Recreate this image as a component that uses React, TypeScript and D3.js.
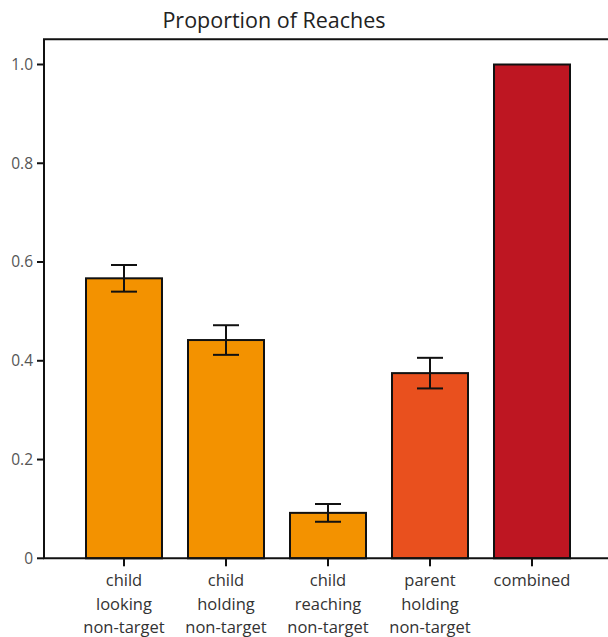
import { useEffect, useRef } from "react";
import * as d3 from "d3";

const categories = [
  "child looking non-target",
  "child holding non-target",
  "child reaching non-target",
  "parent holding non-target",
  "combined",
];
const labelLines = [
  ["child", "looking", "non-target"],
  ["child", "holding", "non-target"],
  ["child", "reaching", "non-target"],
  ["parent", "holding", "non-target"],
  ["combined"],
];
const values = [0.567, 0.442, 0.092, 0.375, 1.0];
const errors = [0.027, 0.03, 0.018, 0.031, 0];
const colors = ["#F39200", "#F39200", "#F39200", "#E9501E", "#BE1622"];
const yTicks = [0, 0.2, 0.4, 0.6, 0.8, 1.0];

function App() {
  const ref = useRef<SVGSVGElement>(null);
  const width = 608;
  const height = 637;

  useEffect(() => {
    document.body.style.margin = "0";
    buildChart();
  }, []);

  const buildChart = () => {
    const svg = d3.select(ref.current);
    svg.selectAll("*").remove();

    const left = 44;
    const baseline = 558.3;

    const x = d3
      .scaleBand()
      .domain(categories)
      .range([86, 570])
      .paddingInner(0.255)
      .paddingOuter(0);

    const y = d3.scaleLinear().domain([0, 1]).range([baseline, 64.5]);
    const font = "'Open Sans', 'Noto Sans', sans-serif";

    // title
    svg
      .append("text")
      .attr("x", 274)
      .attr("y", 28)
      .attr("text-anchor", "middle")
      .attr("font-family", font)
      .attr("font-size", 21.5)
      .attr("fill", "#222")
      .text("Proportion of Reaches");

    // bars
    svg
      .selectAll("rect.bar")
      .data(values)
      .enter()
      .append("rect")
      .attr("class", "bar")
      .attr("x", (_, i) => x(categories[i]) as number)
      .attr("y", (d) => y(d))
      .attr("width", x.bandwidth())
      .attr("height", (d) => baseline - y(d))
      .attr("fill", (_, i) => colors[i])
      .attr("stroke", "#111")
      .attr("stroke-width", 2);

    // error bars
    const cx = (i: number) => (x(categories[i]) as number) + x.bandwidth() / 2;
    const err = svg.append("g").attr("stroke", "#111").attr("stroke-width", 2);
    values.forEach((v, i) => {
      if (!errors[i]) return;
      const c = cx(i);
      err
        .append("line")
        .attr("x1", c)
        .attr("x2", c)
        .attr("y1", y(v + errors[i]))
        .attr("y2", y(v - errors[i]));
      [v + errors[i], v - errors[i]].forEach((e) => {
        err
          .append("line")
          .attr("x1", c - 13)
          .attr("x2", c + 13)
          .attr("y1", y(e))
          .attr("y2", y(e));
      });
    });

    // frame (top and right run off the canvas)
    const frame = svg.append("g").attr("stroke", "#111").attr("stroke-width", 2).attr("fill", "none");
    frame
      .append("path")
      .attr("d", `M${left},${baseline}V${y(1.051)}H${width + 20}`);
    frame
      .append("line")
      .attr("x1", left - 1)
      .attr("x2", width + 20)
      .attr("y1", baseline)
      .attr("y2", baseline);

    // y ticks
    const yAxis = svg.append("g");
    yTicks.forEach((t) => {
      yAxis
        .append("line")
        .attr("x1", left - 7)
        .attr("x2", left)
        .attr("y1", y(t))
        .attr("y2", y(t))
        .attr("stroke", "#111")
        .attr("stroke-width", 2);
      yAxis
        .append("text")
        .attr("x", left - 11)
        .attr("y", y(t))
        .attr("dy", "0.35em")
        .attr("text-anchor", "end")
        .attr("font-family", font)
        .attr("font-size", 15.5)
        .attr("fill", "#555")
        .text(t === 0 ? "0" : d3.format(".1f")(t));
    });

    // x ticks and labels
    const xAxis = svg.append("g");
    categories.forEach((_, i) => {
      const c = cx(i);
      xAxis
        .append("line")
        .attr("x1", c)
        .attr("x2", c)
        .attr("y1", baseline)
        .attr("y2", baseline + 8)
        .attr("stroke", "#111")
        .attr("stroke-width", 2);
      const txt = xAxis
        .append("text")
        .attr("text-anchor", "middle")
        .attr("font-family", font)
        .attr("font-size", 16.5)
        .attr("fill", "#333");
      labelLines[i].forEach((line, j) => {
        txt
          .append("tspan")
          .attr("x", c)
          .attr("y", 586 + j * 23.5)
          .text(line);
      });
    });
  };

  return <svg ref={ref} width={width} height={height} style={{ display: "block", background: "#fff" }} />;
}

export default App;
